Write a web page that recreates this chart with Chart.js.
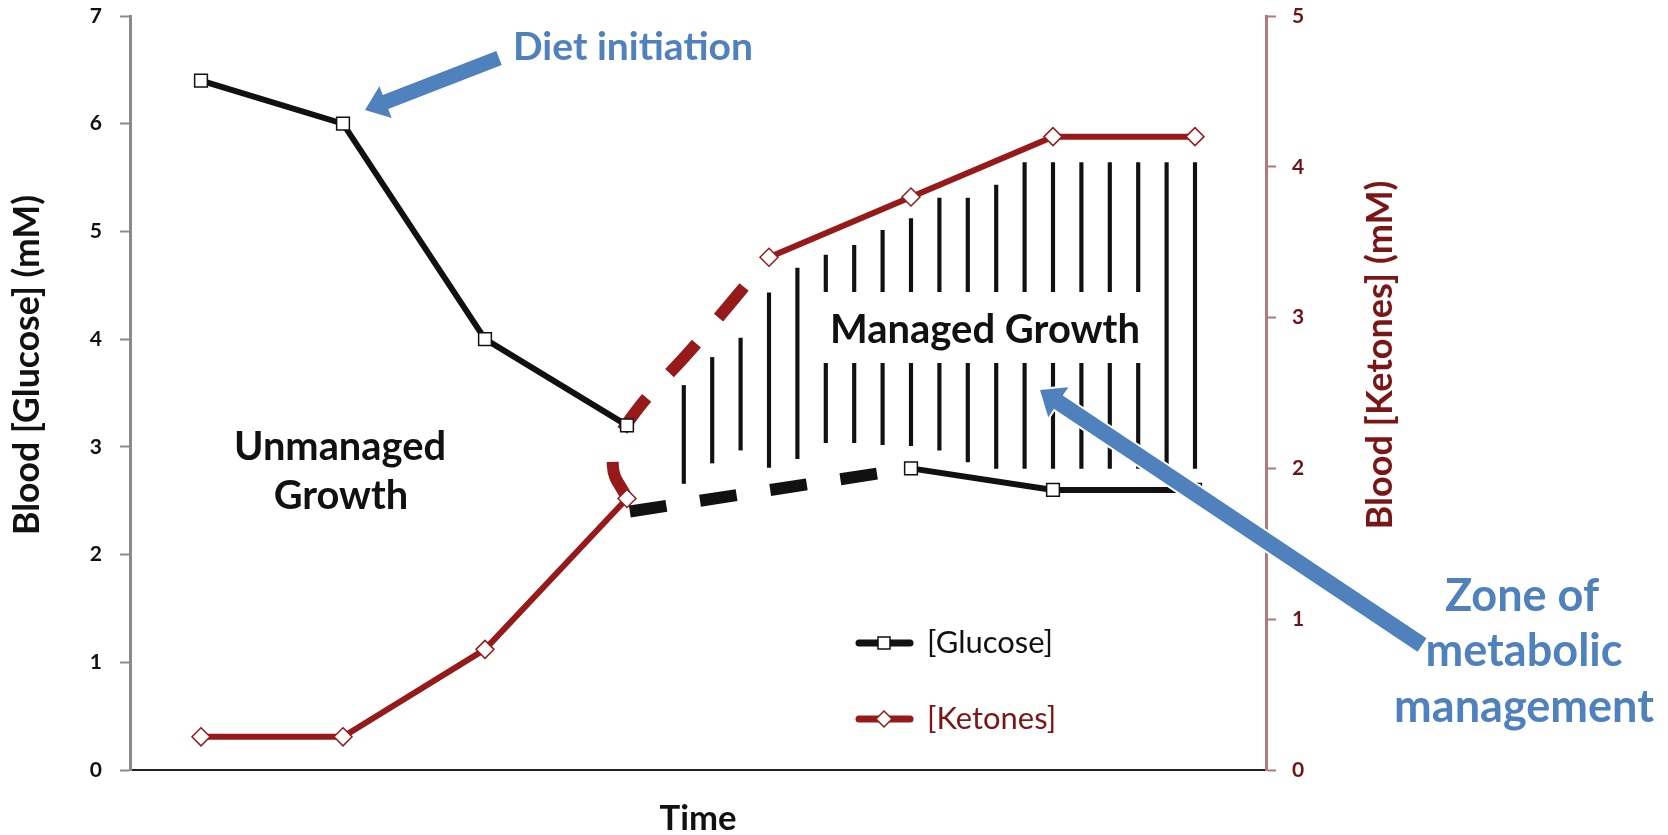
<!DOCTYPE html>
<html>
<head>
<meta charset="utf-8">
<script src="https://cdn.jsdelivr.net/npm/chart.js@4.4.1/dist/chart.umd.min.js"></script>
<style>
  html, body { margin: 0; padding: 0; background: #ffffff; }
  #wrap { width: 1668px; height: 835px; }
</style>
</head>
<body>
<div id="wrap"><canvas id="c" width="1668" height="835"></canvas></div>
<script>
// ---------- data ----------
const timePoints = [0, 1, 2, 3, 4, 5, 6, 7];
const glucose = [6.4, 6.0, 4.0, 3.2, null, 2.8, 2.6, 2.6];
const ketones = [0.22, 0.22, 0.8, 1.8, 3.4, 3.8, 4.2, 4.2];
// hypothesised transition after diet initiation (dashed)
const glucoseBridgeX = [3.02, 5.0];
const glucoseBridgeY = [2.4, 2.8];
const ketoneBridgeX = [3.0, 2.9, 2.98, 3.5, 4.0];
const ketoneBridgeY = [1.8, 2.02, 2.27, 2.84, 3.4];
// zone of metabolic management (vertical hatch, glucose-axis units)
const zoneX      = [3.4, 3.6, 3.8, 4.0, 4.2, 4.4, 4.6, 4.8, 5.0, 5.2, 5.4, 5.6, 5.8, 6.0, 6.2, 6.4, 6.6, 6.8, 7.0];
const zoneTop    = [3.57, 3.83, 4.01, 4.43, 4.66, 4.78, 4.87, 5.01, 5.12, 5.31, 5.31, 5.43, 5.64, 5.64, 5.64, 5.64, 5.64, 5.64, 5.64];
const zoneBottom = [2.66, 2.85, 2.97, 2.81, 2.89, 3.04, 3.04, 3.02, 3.01, 2.97, 2.86, 2.80, 2.80, 2.80, 2.80, 2.80, 2.80, 2.69, 2.80];
const glucoseAxisRange = [0, 7];
const ketoneAxisRange = [0, 5];
const seriesNames = ['[Glucose]', '[Ketones]'];

// ---------- styles ----------
const RED = '#961a1a';
const DARKRED = '#6e1414';
const BLUE = '#4f81bd';
const FONT = 'Lato, "Open Sans", sans-serif';

function fitFont(ctx, text, weight, width) {
  ctx.font = weight + ' 100px ' + FONT;
  const w = ctx.measureText(text).width;
  const size = 100 * width / w;
  ctx.font = weight + ' ' + size.toFixed(2) + 'px ' + FONT;
  return size;
}

function arrow(ctx, x1, y1, x2, y2, shaft, headLen, headW, outline) {
  const ang = Math.atan2(y2 - y1, x2 - x1);
  const len = Math.hypot(x2 - x1, y2 - y1);
  ctx.save();
  ctx.translate(x1, y1);
  ctx.rotate(ang);
  ctx.beginPath();
  ctx.moveTo(0, -shaft / 2);
  ctx.lineTo(len - headLen, -shaft / 2);
  ctx.lineTo(len - headLen, -headW / 2);
  ctx.lineTo(len, 0);
  ctx.lineTo(len - headLen, headW / 2);
  ctx.lineTo(len - headLen, shaft / 2);
  ctx.lineTo(0, shaft / 2);
  ctx.closePath();
  if (outline) {
    ctx.strokeStyle = '#ffffff';
    ctx.lineWidth = 4;
    ctx.lineJoin = 'miter';
    ctx.stroke();
  }
  ctx.fillStyle = BLUE;
  ctx.fill();
  ctx.restore();
}

const annotations = {
  id: 'annotations',
  afterDatasetsDraw(chart) {
    const ctx = chart.ctx;
    ctx.save();
    // label box inside the hatched zone
    ctx.fillStyle = '#ffffff';
    ctx.fillRect(812, 292, 340, 71);
    fitFont(ctx, 'Managed Growth', 'bold', 310);
    ctx.fillStyle = '#111111';
    ctx.textAlign = 'center';
    ctx.textBaseline = 'middle';
    ctx.fillText('Managed Growth', 985, 330);
    ctx.restore();
  },
  afterDraw(chart) {
    const ctx = chart.ctx;
    ctx.save();
    ctx.textAlign = 'center';
    ctx.textBaseline = 'middle';

    // Unmanaged Growth
    ctx.fillStyle = '#111111';
    fitFont(ctx, 'Unmanaged', 'bold', 212);
    ctx.fillText('Unmanaged', 340, 447);
    ctx.fillText('Growth', 341, 496);

    // axis titles
    fitFont(ctx, 'Time', 'bold', 77);
    ctx.fillText('Time', 698, 819);

    ctx.save();
    ctx.translate(28, 365);
    ctx.rotate(-Math.PI / 2);
    fitFont(ctx, 'Blood [Glucose] (mM)', 'bold', 340);
    ctx.fillStyle = '#111111';
    ctx.fillText('Blood [Glucose] (mM)', 0, 0);
    ctx.restore();

    ctx.save();
    ctx.translate(1380, 355);
    ctx.rotate(-Math.PI / 2);
    fitFont(ctx, 'Blood [Ketones] (mM)', 'bold', 349);
    ctx.fillStyle = '#7b1616';
    ctx.fillText('Blood [Ketones] (mM)', 0, 0);
    ctx.restore();

    // legend
    const rows = [
      { y: 643, color: '#111111', text: '#111111', style: 'rect' },
      { y: 719, color: RED, text: '#7b1616', style: 'diamond' }
    ];
    rows.forEach((r, i) => {
      ctx.beginPath();
      ctx.lineCap = 'round';
      ctx.lineWidth = 7;
      ctx.strokeStyle = r.color;
      ctx.moveTo(859, r.y);
      ctx.lineTo(910, r.y);
      ctx.stroke();
      ctx.lineCap = 'butt';
      ctx.beginPath();
      if (r.style === 'rect') {
        ctx.rect(878, r.y - 6, 12, 12);
      } else {
        ctx.moveTo(884, r.y - 8);
        ctx.lineTo(892, r.y);
        ctx.lineTo(884, r.y + 8);
        ctx.lineTo(876, r.y);
        ctx.closePath();
      }
      ctx.fillStyle = '#ffffff';
      ctx.fill();
      ctx.lineWidth = 1.5;
      ctx.strokeStyle = r.color;
      ctx.stroke();
      ctx.textAlign = 'left';
      fitFont(ctx, seriesNames[0], 'normal', 126);
      ctx.fillStyle = r.text;
      ctx.fillText(seriesNames[i], 927, r.y);
    });

    // blue annotations
    ctx.textAlign = 'left';
    ctx.fillStyle = BLUE;
    fitFont(ctx, 'Diet initiation', 'bold', 240);
    ctx.textBaseline = 'alphabetic';
    ctx.fillText('Diet initiation', 513, 60);

    ctx.textAlign = 'center';
    ctx.textBaseline = 'middle';
    fitFont(ctx, 'management', 'bold', 260);
    ctx.fillText('Zone of', 1522, 596);
    ctx.fillText('metabolic', 1524, 651);
    ctx.fillText('management', 1524, 707);

    arrow(ctx, 499, 58, 365, 110, 15, 22, 34, false);
    arrow(ctx, 1422, 645, 1040, 390, 16, 22, 36, true);

    ctx.restore();
  }
};

const ctx = document.getElementById('c').getContext('2d');
new Chart(ctx, {
  type: 'line',
  data: {
    datasets: [
      {
        label: seriesNames[0],
        data: timePoints.map((t, i) => ({ x: t, y: glucose[i] })),
        yAxisID: 'y',
        borderColor: '#111111',
        borderWidth: 6,
        pointStyle: 'rect',
        pointRadius: 9,
        pointBackgroundColor: '#ffffff',
        pointBorderColor: '#111111',
        pointBorderWidth: 1.5,
        spanGaps: false,
        tension: 0,
        order: 1
      },
      {
        label: seriesNames[1],
        data: timePoints.map((t, i) => ({ x: t, y: ketones[i] })),
        yAxisID: 'y2',
        borderColor: RED,
        borderWidth: 6,
        pointStyle: 'rectRot',
        pointRadius: 9,
        pointBackgroundColor: '#ffffff',
        pointBorderColor: RED,
        pointBorderWidth: 1.5,
        tension: 0,
        segment: {
          borderColor: c => (c.p0DataIndex === 3 ? 'rgba(0,0,0,0)' : undefined)
        },
        order: 0
      },
      {
        label: 'glucose transition',
        data: glucoseBridgeX.map((x, i) => ({ x: x, y: glucoseBridgeY[i] })),
        yAxisID: 'y',
        borderColor: '#111111',
        borderWidth: 12,
        borderDash: [37, 34],
        pointRadius: 0,
        tension: 0,
        order: 3
      },
      {
        label: 'ketone transition',
        data: ketoneBridgeX.map((x, i) => ({ x: x, y: ketoneBridgeY[i] })),
        yAxisID: 'y2',
        borderColor: RED,
        borderWidth: 12,
        borderDash: [40, 34],
        pointRadius: 0,
        tension: 0.45,
        order: 2
      },
      {
        type: 'bar',
        label: 'zone',
        data: zoneX.map((x, i) => ({ x: x, y: [zoneBottom[i], zoneTop[i]] })),
        yAxisID: 'y',
        backgroundColor: '#111111',
        barThickness: 3.5,
        order: 5
      }
    ]
  },
  options: {
    responsive: false,
    animation: false,
    layout: { padding: { top: 16 } },
    plugins: { legend: { display: false }, tooltip: { enabled: false } },
    scales: {
      x: {
        type: 'linear',
        min: -0.5,
        max: 7.5,
        offset: false,
        ticks: { display: false },
        grid: { display: false },
        border: { color: '#222222', width: 2 },
        afterFit: s => { s.height = 65; }
      },
      y: {
        position: 'left',
        min: glucoseAxisRange[0],
        max: glucoseAxisRange[1],
        ticks: {
          stepSize: 1,
          color: '#111111',
          padding: 18,
          font: { family: FONT, weight: 'bold', size: 21 }
        },
        grid: { drawOnChartArea: false, drawTicks: true, tickLength: 10, color: '#8a8a8a', tickWidth: 2 },
        border: { color: '#8a8a8a', width: 3 },
        afterFit: s => { s.width = 130; s.paddingTop = 0; s.paddingBottom = 0; }
      },
      y2: {
        position: 'right',
        min: ketoneAxisRange[0],
        max: ketoneAxisRange[1],
        ticks: {
          stepSize: 1,
          color: DARKRED,
          padding: 16,
          font: { family: FONT, weight: 'bold', size: 21 }
        },
        grid: { drawOnChartArea: false, drawTicks: true, tickLength: 10, color: '#b07a7a', tickWidth: 2 },
        border: { color: '#b07a7a', width: 3 },
        afterFit: s => { s.width = 402; s.paddingTop = 0; s.paddingBottom = 0; }
      }
    }
  },
  plugins: [annotations]
});
</script>
</body>
</html>
